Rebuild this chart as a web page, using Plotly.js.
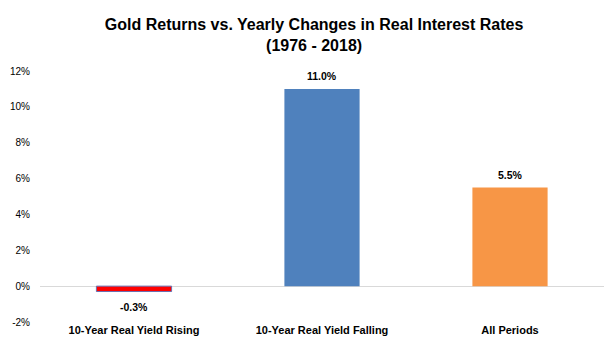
<!DOCTYPE html>
<html><head><meta charset="utf-8">
<script src="https://cdn.plot.ly/plotly-3.0.1.min.js"></script>
<style>html,body{margin:0;padding:0;background:#fff}#chart{width:604px;height:354px}</style>
</head><body><div id="chart"></div>
<script>
const categories = ["10-Year Real Yield Rising", "10-Year Real Yield Falling", "All Periods"];
const returns = [-0.3, 11.0, 5.5];
const barColors = ["#FF0000", "#4F81BD", "#F79646"];
const yTicks = [-2, 0, 2, 4, 6, 8, 10, 12];

const FONT = "'Liberation Sans', Arial, sans-serif";

const trace = {
  type: "bar",
  x: categories,
  y: returns,
  marker: {color: barColors, line: {width: [1, 0, 0], color: ["#6A6FB0", "#4F81BD", "#F79646"]}},
  cliponaxis: false,
  hoverinfo: "none"
};

const annotations = categories.map((c, i) => ({
  x: c, y: returns[i], xref: "x", yref: "y",
  text: "<b>" + returns[i].toFixed(1) + "%</b>",
  showarrow: false,
  yanchor: returns[i] >= 0 ? "bottom" : "top",
  yshift: returns[i] >= 0 ? 5 : -7,
  font: {family: FONT, size: 10.5, color: "#000"}
}));

const layout = {
  width: 604, height: 354,
  margin: {l: 40, r: 0, t: 71, b: 32},
  paper_bgcolor: "#fff", plot_bgcolor: "#fff",
  showlegend: false,
  bargap: 0.6,
  annotations: annotations,
  title: {
    text: "<b>Gold Returns vs. Yearly Changes in Real Interest Rates</b><br><b>(1976 - 2018)</b>",
    font: {family: FONT, size: 16, color: "#000"},
    x: 0.52, xanchor: "center", y: 1 - 30 / 354, yanchor: "middle"
  },
  xaxis: {
    showgrid: false, showline: false, ticks: "",
    tickfont: {family: FONT, size: 11, color: "#000"},
    tickprefix: "<b>", ticksuffix: "</b>"
  },
  yaxis: {
    range: [-2, 12], tickvals: yTicks, ticktext: yTicks.map(v => v + "%"),
    showgrid: false, showline: false, ticks: "",
    ticklabelstandoff: 9,
    zeroline: true, zerolinecolor: "#D9D9D9", zerolinewidth: 1,
    tickfont: {family: FONT, size: 10, color: "#000"}
  }
};

Plotly.newPlot("chart", [trace], layout, {displayModeBar: false, staticPlot: true});
</script></body></html>
